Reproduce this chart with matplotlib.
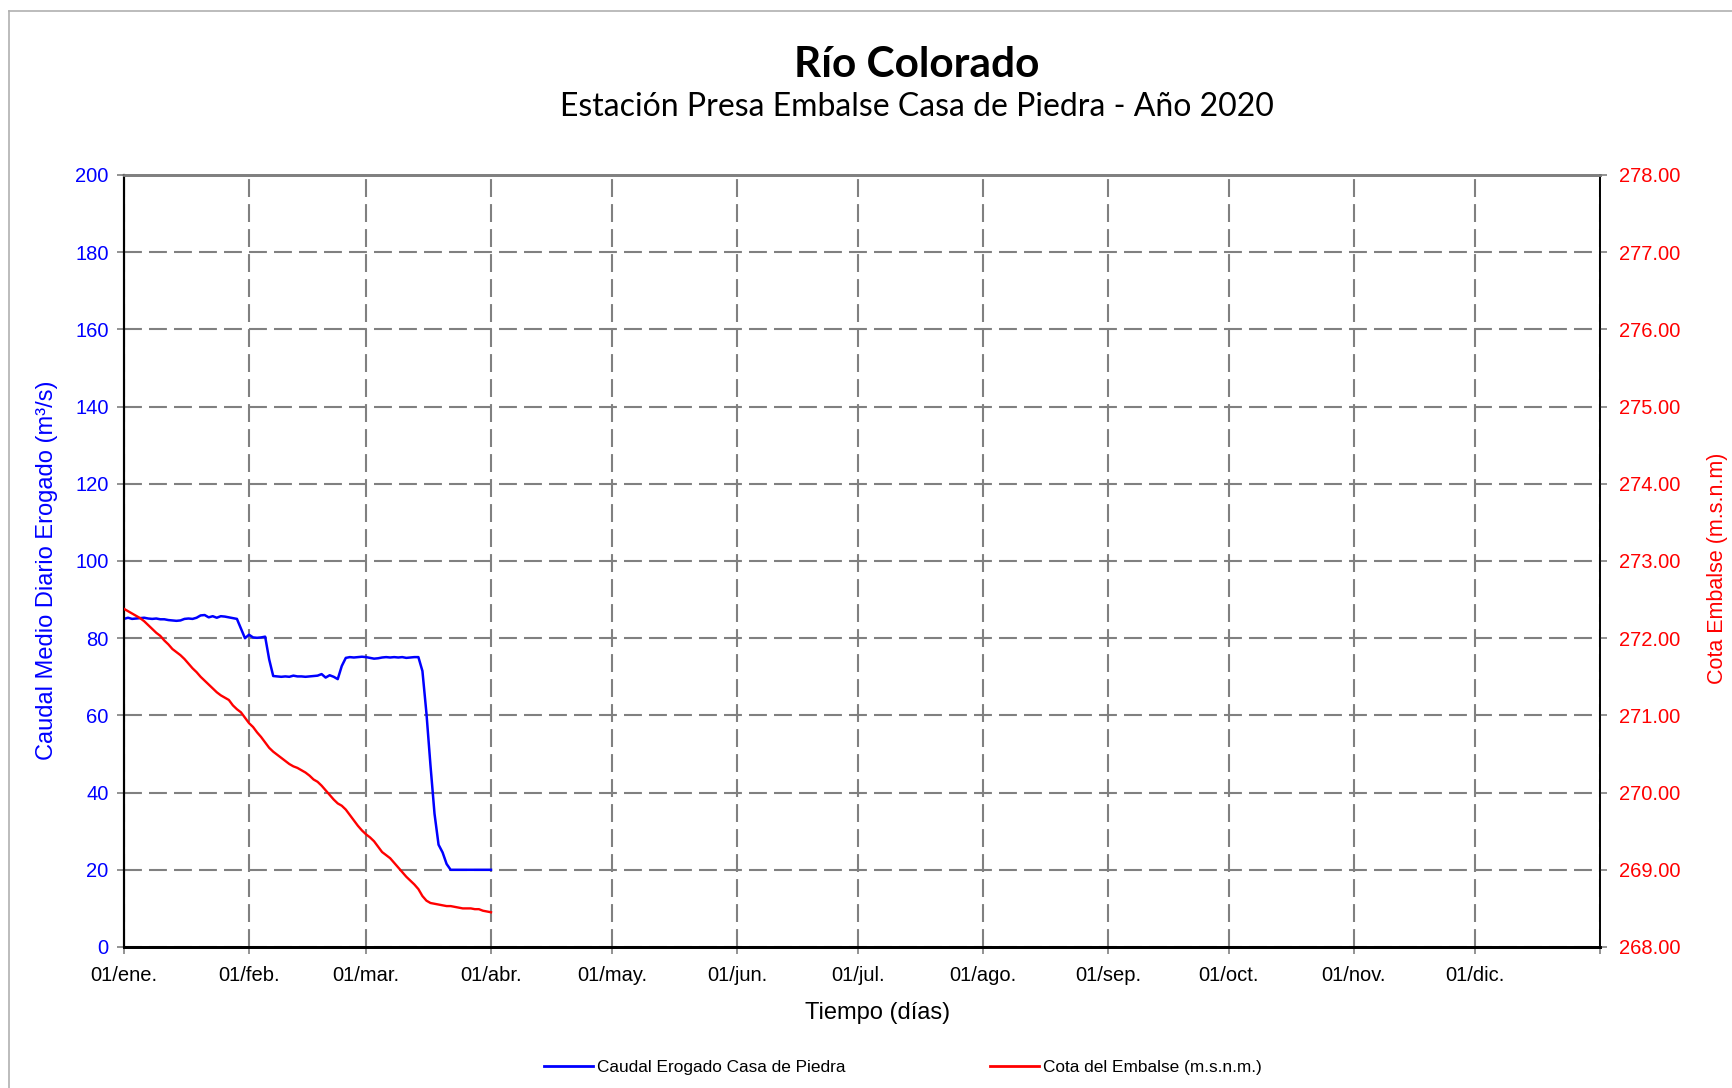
import numpy as np
import pandas as pd
import matplotlib
matplotlib.use("Agg")
import matplotlib.pyplot as plt
import matplotlib.dates as mdates
from matplotlib.ticker import FuncFormatter, MultipleLocator
from matplotlib.lines import Line2D

# daily values, 01/ene to 01/abr 2020
caudal = [85.0, 85.3, 85.0, 85.1, 85.2, 85.3, 85.1, 85.0, 85.1, 84.9,
          84.9, 84.7, 84.6, 84.5, 84.6, 85.0, 85.1, 85.0, 85.3, 85.9,
          86.0, 85.4, 85.7, 85.3, 85.7, 85.6, 85.4, 85.2, 85.0, 82.5,
          80.0, 80.9, 80.2, 80.1, 80.2, 80.4, 74.5, 70.2, 70.1, 70.0,
          70.1, 70.0, 70.3, 70.1, 70.1, 70.0, 70.1, 70.2, 70.3, 70.7,
          69.8, 70.4, 70.0, 69.4, 72.8, 74.9, 75.1, 75.0, 75.1, 75.2,
          75.1, 74.9, 74.7, 74.8, 75.0, 75.1, 75.0, 75.1, 75.0, 75.1,
          74.9, 75.0, 75.1, 75.1, 71.5, 60.5, 47.0, 34.5, 26.5, 24.5,
          21.5, 20.0, 20.0, 20.0, 20.0, 20.0, 20.0, 20.0, 20.0, 20.0,
          20.0, 20.0]
cota = [272.38, 272.35, 272.32, 272.29, 272.26, 272.22, 272.17, 272.12, 272.07, 272.03,
        271.97, 271.92, 271.86, 271.82, 271.78, 271.73, 271.67, 271.61, 271.56, 271.50,
        271.45, 271.40, 271.35, 271.30, 271.26, 271.23, 271.20, 271.13, 271.08, 271.04,
        270.97, 270.90, 270.85, 270.78, 270.72, 270.65, 270.58, 270.53, 270.49, 270.45,
        270.41, 270.37, 270.34, 270.32, 270.29, 270.26, 270.22, 270.17, 270.14, 270.09,
        270.03, 269.97, 269.91, 269.86, 269.83, 269.78, 269.71, 269.64, 269.57, 269.51,
        269.46, 269.42, 269.37, 269.30, 269.23, 269.19, 269.15, 269.09, 269.03, 268.97,
        268.91, 268.86, 268.81, 268.75, 268.66, 268.60, 268.57, 268.56, 268.55, 268.54,
        268.53, 268.53, 268.52, 268.51, 268.50, 268.50, 268.50, 268.49, 268.49, 268.47,
        268.46, 268.45]
meses = ["ene.", "feb.", "mar.", "abr.", "may.", "jun.",
         "jul.", "ago.", "sep.", "oct.", "nov.", "dic."]

fechas = pd.date_range("2020-01-01", periods=len(caudal), freq="D")

W, H = 1733, 1088
fig = plt.figure(figsize=(W / 100, H / 100), dpi=100)
plt.rcParams["font.family"] = ["Liberation Sans", "DejaVu Sans"]

ax = fig.add_axes([124 / W, 1 - 947 / H, 1476 / W, 772 / H])
ax2 = ax.twinx()

ax.plot(fechas, caudal, color="#0000ff", lw=1.8, zorder=3)
ax2.plot(fechas, cota, color="#ff0000", lw=1.7, zorder=3)

ax.set_xlim(pd.Timestamp("2020-01-01"), pd.Timestamp("2021-01-01"))
ax.set_ylim(0, 200)
ax2.set_ylim(268, 278)
ax.yaxis.set_major_locator(MultipleLocator(20))
ax2.yaxis.set_major_locator(MultipleLocator(1))
ax2.yaxis.set_major_formatter(FuncFormatter(lambda v, p: "%.2f" % v))

ax.xaxis.set_major_locator(mdates.MonthLocator())
ax.xaxis.set_major_formatter(FuncFormatter(
    lambda v, p: "01/" + meses[mdates.num2date(v).month - 1]
    if mdates.num2date(v).year == 2020 else ""))

dash = (0, (8.6, 3.4))
ax.grid(True, color="#808080", lw=1.5, ls=dash)
ax.set_axisbelow(True)

ax.tick_params(axis="y", colors="#808080", labelcolor="#0000ff", labelsize=14.5,
               length=5, width=1.2, pad=6)
ax.tick_params(axis="x", colors="#808080", labelcolor="black", labelsize=14.5,
               length=5, width=1.2, pad=9)
ax2.tick_params(axis="y", colors="#808080", labelcolor="#ff0000", labelsize=14.5,
                length=5, width=1.2, pad=9)

for a in (ax, ax2):
    a.spines["top"].set_color("#808080")
    a.spines["top"].set_linewidth(2)
    a.spines["left"].set_linewidth(1.5)
    a.spines["bottom"].set_linewidth(2)
    a.spines["right"].set_linewidth(1.2)

fig.text(47.5 / W, 1 - 570 / H, "Caudal Medio Diario Erogado (m³/s)",
         color="#0000ff", fontsize=17, rotation=90, ha="center", va="center")
fig.text(1718 / W, 1 - 568 / H, "Cota Embalse (m.s.n.m)",
         color="#ff0000", fontsize=15.5, rotation=90, ha="center", va="center")
fig.text(878 / W, 1 - 1013 / H, "Tiempo (días)", fontsize=17,
         ha="center", va="center")

fig.text(0.529, 0.940, "Río Colorado", ha="center", va="center",
         fontsize=30.5, fontweight="bold", family=["Lato", "DejaVu Sans"])
fig.text(0.529, 0.902, "Estación Presa Embalse Casa de Piedra - Año 2020",
         ha="center", va="center", fontsize=23, family=["Lato", "DejaVu Sans"])

h1 = Line2D([], [], color="#0000ff", lw=2)
h2 = Line2D([], [], color="#ff0000", lw=2)
fig.legend([h1, h2], ["Caudal Erogado Casa de Piedra", "Cota del Embalse (m.s.n.m.)"],
           loc="center", bbox_to_anchor=(0.521, 0.019), ncol=2, frameon=False,
           fontsize=12.4, handlelength=2.85, handletextpad=0.25, columnspacing=8.4)

# outer chart border
fig.add_artist(Line2D([9 / W, 9 / W], [0, 1 - 11 / H], color="#b0b0b0", lw=1.2))
fig.add_artist(Line2D([9 / W, 1], [1 - 11 / H, 1 - 11 / H], color="#b0b0b0", lw=1.2))

fig.savefig("out.png", dpi=100)
